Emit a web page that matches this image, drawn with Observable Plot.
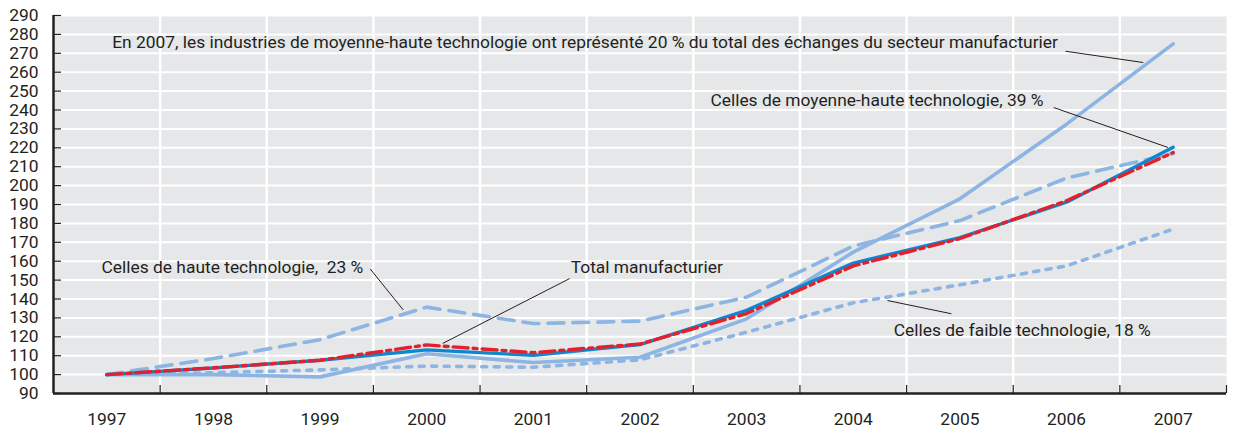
<!DOCTYPE html>
<html>
<head>
<meta charset="utf-8">
<script src="https://cdn.jsdelivr.net/npm/d3@7"></script>
<script src="https://cdn.jsdelivr.net/npm/@observablehq/plot@0.6"></script>
<style>
  html, body { margin: 0; padding: 0; background: #ffffff; }
  svg text { white-space: pre; }
</style>
</head>
<body>
<div id="chart"></div>
<script>
// ---- Data (index, 1997 = 100) ----
const years = [1997, 1998, 1999, 2000, 2001, 2002, 2003, 2004, 2005, 2006, 2007];
const hauteTech      = [100, 108.5, 118.5, 135.7, 127.0, 128.3, 141.0, 168.0, 181.5, 204.0, 217.0];
const moyenneHaute   = [100, 103.5, 107.6, 113.1, 110.2, 115.9, 134.0, 159.0, 172.5, 191.2, 220.3];
const totalManuf     = [100, 103.6, 107.6, 115.7, 111.6, 116.2, 132.3, 157.5, 172.0, 192.0, 217.5];
const faibleTech     = [100, 101.0, 102.5, 104.5, 103.9, 107.8, 122.4, 138.0, 147.5, 157.5, 177.0];
const moyenneBasse   = [100, 100.0, 98.8, 111.0, 106.4, 109.2, 129.5, 164.8, 193.0, 232.5, 275.0];
const yTicks = [90, 100, 110, 120, 130, 140, 150, 160, 170, 180, 190, 200, 210, 220, 230, 240, 250, 260, 270, 280, 290];

// Annotation texts (positions in data units)
const annotations = [
  {label: "En 2007, les industries de moyenne-haute technologie ont représenté 20 % du total des échanges du secteur manufacturier", x: 1997.05, y: 275.7},
  {label: "Celles de moyenne-haute technologie, 39 %", x: 2002.66, y: 245.0},
  {label: "Celles de haute technologie,  23 %", x: 1996.95, y: 156.5},
  {label: "Total manufacturier", x: 2001.35, y: 156.5},
  {label: "Celles de faible technologie, 18 %", x: 2004.38, y: 123.5}
];
const leaders = [
  {x1: 2005.99, y1: 271.1, x2: 2006.72, y2: 265.1},
  {x1: 2005.88, y1: 241.3, x2: 2006.95, y2: 220.2},
  {x1: 1999.47, y1: 155.9, x2: 1999.78, y2: 134.2},
  {x1: 2001.34, y1: 150.8, x2: 2000.15, y2: 116.5},
  {x1: 2004.32, y1: 139.2, x2: 2004.92, y2: 132.2}
];

const toRows = arr => years.map((yr, i) => ({year: yr, value: arr[i]}));
const bounds = years.slice(0, -1).map(y => y + 0.5);           // between-year boundaries
const boundsAll = [...bounds, years[years.length - 1] + 0.5];
const xDomain = [years[0] - 0.5, years[years.length - 1] + 0.5];

const lightBlue = "#8db5e3";
const darkBlue = "#0d87cf";
const red = "#e3202b";
const ink = "#231f20";
const fs = 17.4;

const chart = Plot.plot({
  width: 1234,
  height: 431,
  marginLeft: 53,
  marginRight: 8,
  marginTop: 15,
  marginBottom: 38,
  style: {fontFamily: "Roboto, 'Liberation Sans', sans-serif", fontSize: fs + "px", color: ink, background: "#ffffff"},
  x: {domain: xDomain, label: null},
  y: {domain: [90, 290], label: null},
  marks: [
    Plot.frame({fill: "#e6e7e9", stroke: null}),
    Plot.gridY(yTicks.slice(1), {stroke: "#ffffff", strokeOpacity: 1, strokeWidth: 2}),
    Plot.gridX(bounds, {stroke: "#ffffff", strokeOpacity: 1, strokeWidth: 2.5}),
    // axes
    Plot.axisY(yTicks, {anchor: "left", tickSize: 0, tickPadding: 15, fontSize: fs, fill: ink, label: null}),
    Plot.axisY(yTicks, {anchor: "left", tickSize: -8, tickFormat: () => "", stroke: ink, strokeWidth: 1.2, label: null}),
    Plot.axisX(years, {anchor: "bottom", tickSize: 0, tickPadding: 19, fontSize: fs, fill: ink, tickFormat: "d", label: null}),
    Plot.axisX(boundsAll, {anchor: "bottom", tickSize: -8, tickFormat: () => "", stroke: ink, strokeWidth: 1.2, label: null}),
    Plot.ruleX([xDomain[0]], {stroke: ink, strokeWidth: 2.5}),
    Plot.ruleY([90], {stroke: ink, strokeWidth: 2.5}),
    // series
    Plot.lineY(toRows(moyenneBasse), {x: "year", y: "value", stroke: lightBlue, strokeWidth: 3.6}),
    Plot.lineY(toRows(faibleTech), {x: "year", y: "value", stroke: lightBlue, strokeWidth: 3.6, strokeDasharray: "5,7.5"}),
    Plot.lineY(toRows(hauteTech), {x: "year", y: "value", stroke: lightBlue, strokeWidth: 3.6, strokeDasharray: "16,9"}),
    Plot.lineY(toRows(moyenneHaute), {x: "year", y: "value", stroke: darkBlue, strokeWidth: 3.4}),
    Plot.lineY(toRows(totalManuf), {x: "year", y: "value", stroke: red, strokeWidth: 3.4, strokeDasharray: "15,5,4,5"}),
    // annotations
    Plot.link(leaders, {x1: "x1", y1: "y1", x2: "x2", y2: "y2", stroke: ink, strokeWidth: 1}),
    Plot.text(annotations, {x: "x", y: "y", text: "label", textAnchor: "start", fontSize: fs, fill: ink})
  ]
});
document.getElementById("chart").appendChild(chart);
</script>
</body>
</html>
